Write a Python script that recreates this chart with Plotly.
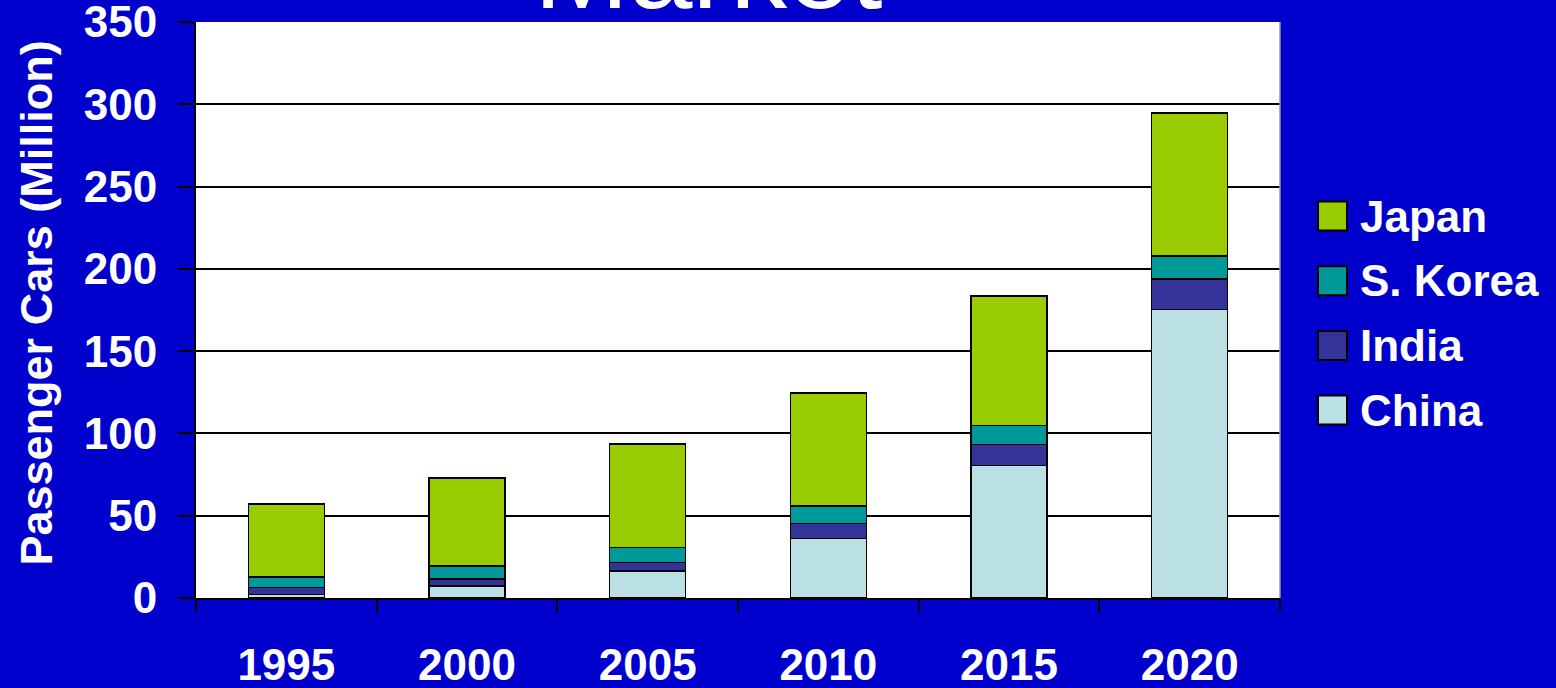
import plotly.graph_objects as go

years = ["1995", "2000", "2005", "2010", "2015", "2020"]
china = [2.2, 7.3, 16.4, 36.1, 80.4, 175.2]
india = [4.1, 4.1, 5.3, 9.1, 13.0, 18.6]
korea = [6.6, 8.0, 9.1, 10.7, 11.5, 14.0]
japan = [44.2, 53.5, 62.8, 68.7, 78.6, 86.9]

series_names = ["China", "India", "S. Korea", "Japan"]
series_values = [china, india, korea, japan]
series_colors = ["#BBE0E3", "#333399", "#009999", "#99CC00"]

y_ticks = [0, 50, 100, 150, 200, 250, 300, 350]

BG = "#0000CC"
FONT = "Liberation Sans, Arial, sans-serif"

fig = go.Figure()
for name, vals, col in zip(series_names, series_values, series_colors):
    fig.add_trace(go.Bar(
        x=years, y=vals, name=name,
        marker=dict(color=col, line=dict(color="black", width=1.5)),
        showlegend=False,
    ))

W, H = 1556, 688
ml, mr, mt, mb = 196, 276, 22, 90
pw, ph = W - ml - mr, H - mt - mb

def px_to_paper_x(px):
    return (px - ml) / pw

def px_to_paper_y(py):
    return (H - mb - py) / ph

shapes = []
annotations = []
# manual legend (top to bottom: Japan, S. Korea, India, China)
leg_names = series_names[::-1]
leg_colors = series_colors[::-1]
for i, (nm, col) in enumerate(zip(leg_names, leg_colors)):
    cy = 216 + i * 64.7
    shapes.append(dict(
        type="rect", xref="paper", yref="paper",
        x0=px_to_paper_x(1318), x1=px_to_paper_x(1347),
        y0=px_to_paper_y(cy + 14.5), y1=px_to_paper_y(cy - 14.5),
        fillcolor=col, line=dict(color="black", width=2),
    ))
    annotations.append(dict(
        text=f"<b>{nm}</b>", xref="paper", yref="paper",
        x=px_to_paper_x(1358), y=px_to_paper_y(cy),
        xanchor="left", yanchor="middle", showarrow=False,
        font=dict(family=FONT, size=44, color="white"),
    ))

# right border of plot area
shapes.append(dict(type="line", xref="paper", yref="paper",
                   x0=1, x1=1, y0=0, y1=1,
                   line=dict(color="#999999", width=1.5)))

# cut-off title (as in the reference, only its lower part is visible)
annotations.append(dict(
    text="Market", xref="paper", yref="paper",
    x=px_to_paper_x(708), y=px_to_paper_y(8 + 26),
    xanchor="center", yanchor="bottom", showarrow=False,
    font=dict(family=FONT, size=114, color="white"),
))

# y-axis title
annotations.append(dict(
    text="<b>Passenger Cars (Million)</b>", xref="paper", yref="paper",
    x=px_to_paper_x(36), y=px_to_paper_y(303.5),
    xanchor="center", yanchor="middle", showarrow=False, textangle=-90,
    font=dict(family=FONT, size=45, color="white"),
))

fig.update_layout(
    width=W, height=H,
    margin=dict(l=ml, r=mr, t=mt, b=mb, autoexpand=False),
    paper_bgcolor=BG, plot_bgcolor="white",
    barmode="stack", bargap=0.58,
    font=dict(family=FONT, color="white"),
    shapes=shapes, annotations=annotations,
    showlegend=False,
)
fig.update_xaxes(
    type="category",
    showline=True, linecolor="black", linewidth=2,
    ticks="outside", tickson="boundaries", ticklen=12, tickwidth=2, tickcolor="black",
    tickfont=dict(family=FONT, size=44, color="white", weight="bold"),
    ticklabelstandoff=27, ticklabeloverflow="allow",
    showgrid=False,
)
fig.update_yaxes(
    range=[0, 350], tickvals=y_ticks,
    showline=True, linecolor="black", linewidth=2,
    ticks="outside", ticklen=16, tickwidth=2, tickcolor="black",
    tickfont=dict(family=FONT, size=44, color="white", weight="bold"),
    ticklabelstandoff=12, ticklabeloverflow="allow",
    showgrid=True, gridcolor="black", gridwidth=2,
    zeroline=False,
)

fig.write_html(
    "out.html",
    config={"displayModeBar": False},
    post_script="document.body.style.margin='0';document.body.style.background='#0000CC';",
)
